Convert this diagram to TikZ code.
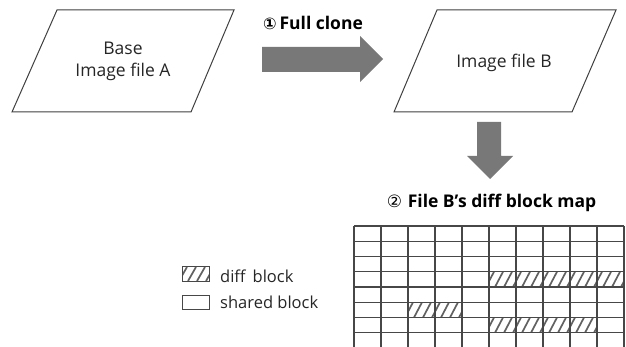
\documentclass[tikz,border=0pt]{standalone}
\usepackage{fontspec}
\setmainfont{Open Sans}
\newfontfamily\dejavu{DejaVu Sans}
\newcommand\hatchbox[4]{%
  \begin{scope}
    \clip (#1,#2) rectangle (#3,#4);
    \foreach \s in {0,9,...,150} {\draw[hatch] ({#1+\s-12},#4) -- ({#1+\s-4},#2);}
  \end{scope}}
\begin{document}
\begin{tikzpicture}[x=1pt,y=-1pt,
  para/.style={draw=black!75, line width=1pt, fill=white},
  lbl/.style={font=\fontsize{17.5}{22}\selectfont, align=center, inner sep=0pt, text=black!85},
  ttl/.style={font=\fontsize{17.5}{20}\selectfont\bfseries, inner sep=0pt},
  leg/.style={font=\fontsize{16.5}{18}\selectfont, inner sep=0pt, anchor=west, text=black!85},
  blockarrow/.style={fill=black!53, draw=none},
  gridline/.style={draw=black!72, line width=1.1pt},
  hatch/.style={draw=black!62, line width=1.7pt},
  legbox/.style={draw=black!72, line width=1pt}]
\useasboundingbox (0,0) rectangle (626,347);

% parallelograms
\draw[para] (57,10) -- (234,10) -- (191,112) -- (12,112) -- cycle;
\node[lbl] (A) at (123,61) {Base\\Image file A};
\draw[para] (437,10) -- (616,10) -- (572,112) -- (394,112) -- cycle;
\node[lbl] (B) at (504,63) {Image file B};

% block arrows
\fill[blockarrow] (262,47) -- (360,47) -- (360,36) -- (383,59) -- (360,82) -- (360,72) -- (262,72) -- cycle;
\fill[blockarrow] (477,122) -- (501,122) -- (501,156) -- (513,156) -- (490,179) -- (467,156) -- (477,156) -- cycle;

% titles
\node[ttl] (t1) at (313,23) {{\dejavu\fontsize{16}{18}\selectfont ①}\,Full clone};
\node[ttl] (t2) at (491.5,203) {{\dejavu\mdseries\fontsize{17}{18}\selectfont ②}\,\,File B’s diff block map};

% hatched cells
\hatchbox{489}{271.75}{624}{287}
\hatchbox{408}{302.25}{462}{317.5}
\hatchbox{489}{317.5}{597}{332.75}

% grid
\foreach \i in {0,...,10} {\draw[gridline] ({354+27*\i},226) -- ({354+27*\i},347);}
\foreach \j in {0,...,7} {\draw[gridline] (354,{226+15.25*\j}) -- (624,{226+15.25*\j});}

% legend
\hatchbox{182}{267}{209}{281}
\draw[legbox] (182,267) rectangle (209,281);
\draw[legbox] (182,295) rectangle (209,309);
\node[leg] (l1) at (220,276) {diff\, block};
\node[leg] (l2) at (220,302) {shared block};
\end{tikzpicture}
\end{document}
